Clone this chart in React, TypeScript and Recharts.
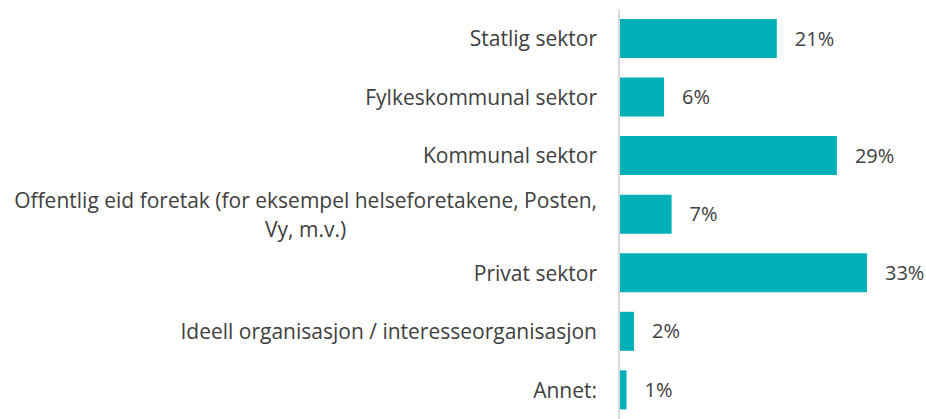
import React from "react";
import { BarChart, Bar, XAxis, YAxis, LabelList, Cell } from "recharts";

const categories = [
  "Statlig sektor",
  "Fylkeskommunal sektor",
  "Kommunal sektor",
  "Offentlig eid foretak (for eksempel helseforetakene, Posten,\nVy, m.v.)",
  "Privat sektor",
  "Ideell organisasjon / interesseorganisasjon",
  "Annet:",
];
const shares = [21, 6, 29, 7, 33, 2, 1];

const data = categories.map((name, i) => ({ name, value: shares[i] }));

const FONT = "'Open Sans', sans-serif";
const FONT_SIZE = 21;
const TEXT = "#404040";
const BAR = "#00B0B9";

let ctx: CanvasRenderingContext2D | null = null;
function measure(s: string): number {
  if (!ctx) ctx = document.createElement("canvas").getContext("2d");
  if (!ctx) return s.length * FONT_SIZE * 0.5;
  ctx.font = `${FONT_SIZE}px 'Open Sans'`;
  return ctx.measureText(s).width;
}

/** Right-aligned label block; wrapped lines are centred under each other. */
function CategoryTick(props: any) {
  const { x, y, payload } = props;
  const lines: string[] = String(payload.value).split("\n");
  const right = x - 14;
  const widest = Math.max(...lines.map(measure));
  const cx = right - widest / 2;
  const lh = 29;
  const y0 = y - ((lines.length - 1) * lh) / 2;
  return (
    <text
      fill={TEXT}
      fontSize={FONT_SIZE}
      fontFamily={FONT}
      textAnchor={lines.length > 1 ? "middle" : "end"}
      dominantBaseline="central"
    >
      {lines.map((l, i) => (
        <tspan key={i} x={lines.length > 1 ? cx : right} y={y0 + i * lh}>
          {l}
        </tspan>
      ))}
    </text>
  );
}

export default function App() {
  return (
    <div style={{ position: "absolute", left: 0, top: 0, background: "#fff" }}>
      <BarChart
        width={926}
        height={419}
        data={data}
        layout="vertical"
        margin={{ top: 9, right: 44, left: 0, bottom: 0 }}
        barCategoryGap="17%"
      >
        <XAxis type="number" domain={[0, 35]} hide />
        <YAxis
          type="category"
          dataKey="name"
          width={619}
          tickLine={false}
          axisLine={{ stroke: "#d9d9d9", strokeWidth: 2 }}
          tick={<CategoryTick />}
          interval={0}
        />
        <Bar dataKey="value" isAnimationActive={false}>
          {data.map((_, i) => (
            <Cell key={i} fill={BAR} />
          ))}
          <LabelList
            dataKey="value"
            position="right"
            offset={18}
            formatter={(v: any) => `${v}%`}
            fill={TEXT}
            fontSize={20}
            fontFamily={FONT}
          />
        </Bar>
      </BarChart>
    </div>
  );
}
